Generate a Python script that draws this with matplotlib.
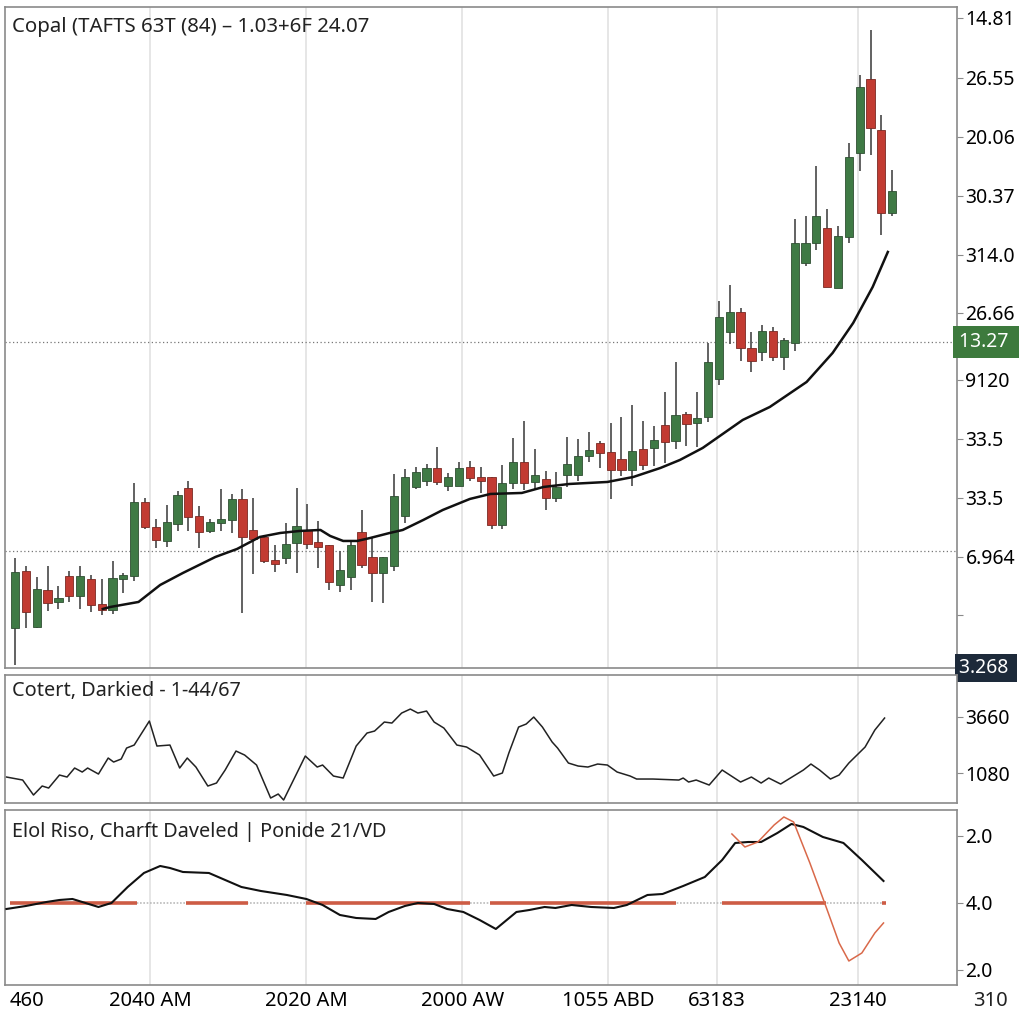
import numpy as np
import matplotlib.pyplot as plt
from matplotlib.transforms import blended_transform_factory

plt.rcParams['font.family'] = ['Noto Sans', 'DejaVu Sans']

# ---- candles (open, close, high, low) ----
opens = [7.2, 12.9, 7.3, 11.0, 9.8, 12.4, 10.4, 12.1, 9.6, 9.0, 12.1, 12.4, 19.8, 17.3, 15.9, 17.6,
         21.2, 18.4, 16.9, 17.7, 18.0, 20.1, 17.0, 16.3, 13.9, 14.2, 15.7, 17.0, 15.8, 15.5, 11.5, 12.3,
         16.8, 14.3, 12.7, 13.4, 18.4, 21.3, 21.9, 23.2, 21.4, 21.4, 23.3, 22.3, 22.3, 17.5, 21.7, 23.8,
         21.8, 22.1, 20.2, 22.5, 22.5, 24.4, 25.7, 24.8, 24.1, 23.0, 25.1, 25.2, 27.5, 25.9, 28.6, 27.7,
         28.3, 32.1, 36.8, 38.8, 35.2, 34.8, 36.9, 34.3, 35.7, 43.7, 45.7, 47.2, 41.2, 46.3, 54.7, 62.1,
         57.0, 48.7]
closes = [12.8, 8.8, 11.1, 9.7, 10.2, 10.4, 12.4, 9.5, 9.0, 12.2, 12.4, 19.8, 17.3, 16.0, 17.8, 20.5,
          18.3, 16.8, 17.8, 18.1, 20.1, 16.3, 16.1, 13.9, 13.6, 15.6, 17.4, 15.6, 15.3, 11.8, 13.0, 15.5,
          13.5, 12.7, 14.3, 20.4, 22.3, 22.8, 23.2, 21.8, 22.3, 23.2, 22.2, 21.9, 17.5, 21.7, 23.8, 21.7,
          22.5, 20.2, 21.3, 23.6, 24.4, 25.0, 24.7, 23.0, 23.0, 24.9, 23.5, 26.0, 25.8, 28.5, 27.6, 28.2,
          33.8, 38.3, 38.8, 35.2, 33.9, 36.9, 34.3, 36.0, 45.7, 45.7, 48.4, 41.3, 46.4, 54.3, 61.3, 57.2,
          48.7, 50.9]
highs = [14.2, 13.4, 12.3, 13.4, 11.4, 12.9, 13.4, 12.5, 12.1, 13.9, 12.7, 21.7, 20.2, 18.1, 19.5, 20.9,
         21.9, 19.4, 18.1, 21.1, 20.6, 21.1, 20.2, 16.5, 15.5, 17.7, 21.2, 19.6, 17.9, 15.5, 14.9, 15.8,
         19.0, 16.2, 14.3, 22.6, 23.1, 23.3, 23.6, 25.3, 22.7, 23.8, 23.9, 23.3, 22.3, 23.5, 26.2, 27.9,
         25.1, 22.9, 22.8, 26.3, 26.1, 26.8, 25.9, 27.7, 28.3, 29.5, 27.9, 27.4, 30.8, 33.8, 28.8, 30.8,
         35.7, 39.9, 41.5, 39.2, 36.8, 37.5, 37.3, 36.2, 48.1, 48.4, 53.4, 49.1, 47.4, 55.7, 62.5, 67.0,
         58.5, 53.0]
lows = [3.5, 7.2, 7.2, 8.9, 9.1, 9.8, 9.1, 8.8, 8.5, 8.6, 10.7, 11.9, 17.1, 15.2, 15.3, 16.9,
        16.9, 15.2, 16.7, 16.9, 16.7, 8.7, 12.6, 13.7, 12.8, 13.6, 12.7, 15.1, 13.2, 11.0, 10.8, 11.0,
        13.2, 9.8, 9.7, 12.9, 17.7, 21.1, 21.4, 21.5, 20.9, 21.4, 21.9, 20.7, 17.1, 17.1, 21.1, 21.0,
        21.0, 19.0, 19.8, 21.3, 21.9, 23.8, 23.2, 20.1, 22.4, 21.4, 23.0, 23.4, 23.7, 25.1, 25.4, 25.3,
        27.8, 31.5, 35.6, 33.9, 32.8, 33.9, 33.9, 33.0, 34.9, 43.4, 45.0, 41.3, 41.2, 45.7, 52.9, 54.5,
        46.5, 48.4]

# moving average (bar index, value)
ma_t = [8.1, 8.8, 11.4, 13.4, 15.5, 18.5, 20.5, 22.6, 24.5, 26.3, 28.2, 29.1, 30.3, 31.6, 32.8, 34.6,
        35.8, 37.7, 39.5, 42.0, 43.9, 46.8, 48.8, 51.2, 54.7, 57.1, 59.6, 61.4, 63.5, 67.2, 69.7, 73.1,
        75.5, 77.4, 79.2, 80.6]
ma_v = [9.1, 9.3, 9.8, 11.5, 12.7, 14.3, 15.1, 16.3, 16.7, 16.9, 17.0, 16.4, 15.9, 15.9, 16.2, 16.7,
        17.0, 18.0, 19.0, 20.1, 20.6, 20.7, 21.3, 21.6, 21.8, 22.3, 23.2, 24.0, 25.2, 28.0, 29.3, 31.8,
        34.7, 37.7, 41.3, 44.8]

# oscillator panel
osc_t = [-0.8, 0.7, 1.7, 2.5, 3.1, 4.1, 4.8, 5.5, 6.2, 6.7, 7.7, 8.6, 9.1, 9.8, 10.3, 11.0, 12.4,
         13.1, 14.3, 15.2, 15.9, 16.7, 17.8, 18.6, 19.4, 20.4, 21.2, 22.3, 23.6, 24.3, 24.8, 26.8, 27.9,
         28.4, 29.4, 30.3, 31.5, 32.5, 33.2, 34.1, 34.8, 35.7, 36.5, 37.2, 38.0, 38.7, 39.6, 40.8, 41.7,
         42.9, 44.2, 45.0, 45.6, 46.5, 47.2, 47.9, 48.7, 49.6, 50.1, 51.1, 52.0, 52.9, 53.8, 54.7, 55.6,
         56.8, 57.4, 58.9, 61.3, 61.7, 62.2, 62.9, 64.1, 65.3, 67.0, 68.0, 68.9, 69.6, 70.7, 71.9, 72.8,
         73.5, 74.3, 75.3, 76.1, 77.0, 78.5, 79.4, 80.3]
osc_v = [896, 758, 68, 482, 390, 988, 896, 1310, 1126, 1310, 1034, 1770, 1586, 1724, 2230, 2368, 3472,
         2322, 2368, 1310, 1770, 1356, 482, 620, 1218, 2092, 1908, 1448, -70, 114, -162, 1862, 1356,
         1448, 942, 850, 2322, 2920, 3012, 3426, 3380, 3840, 4024, 3840, 3932, 3426, 3150, 2368, 2276,
         1908, 942, 1080, 2000, 3196, 3334, 3656, 3196, 2506, 2230, 1540, 1402, 1356, 1494, 1448, 1126,
         942, 804, 804, 758, 850, 666, 758, 528, 1218, 666, 896, 620, 850, 574, 942, 1218,
         1494, 1218, 804, 988, 1540, 2276, 3058, 3610]

# bottom panel: black line and red line
low_t = [-0.8, 1.0, 2.9, 4.1, 5.3, 6.5, 7.7, 8.9, 10.4, 11.9, 13.4, 14.3, 15.5, 17.9, 19.4, 20.9,
         22.7, 25.1, 26.9, 28.4, 30.0, 31.5, 33.3, 34.5, 36.0, 37.2, 38.7, 39.9, 41.4, 42.9, 44.4,
         46.3, 47.5, 48.9, 49.9, 51.4, 53.2, 55.3, 56.5, 58.4, 59.8, 61.7, 63.7, 65.3, 66.5, 67.7,
         68.9, 70.4, 71.7, 72.8, 74.6, 76.5, 78.2, 80.2]
low_v = [-0.6, -0.3, 0.1, 0.3, 0.4, 0.0, -0.4, 0.0, 1.6, 3.0, 3.7, 3.5, 3.1, 3.0, 2.3, 1.6,
         1.2, 0.8, 0.4, -0.2, -1.2, -1.5, -1.6, -0.9, -0.3, 0.0, -0.1, -0.6, -0.9, -1.7, -2.6,
         -0.9, -0.7, -0.4, -0.5, -0.2, -0.4, -0.5, -0.2, 0.8, 0.9, 1.7, 2.6, 4.3, 6.0, 6.1,
         6.1, 7.0, 7.9, 7.6, 6.6, 6.0, 4.3, 2.2]
sig_t = [66.2, 67.4, 68.6, 70.1, 71.0, 71.9, 73.4, 74.9, 76.1, 77.0, 78.2, 79.4, 80.2]
sig_v = [6.9, 5.6, 6.1, 7.8, 8.6, 8.1, 4.0, -0.4, -4.0, -5.8, -5.0, -3.0, -2.0]

# red zero-line segments (start, end in bar units)
seg_start = [-0.5, 15.8, 26.9, 43.9, 65.3, 80.1]
seg_end = [11.3, 21.5, 42.0, 61.0, 74.9, 80.4]

main_ticks = [68.2, 62.2, 56.3, 50.4, 44.5, 38.7, 32.0, 26.1, 20.2, 14.3, 8.5]
main_labels = ['14.81', '26.55', '20.06', '30.37', '314.0', '26.66', '9120', '33.5', '33.5', '6.964', '']
osc_ticks = [3660, 1080]
low_ticks = [6.7, 0.0, -6.7]
low_labels = ['2.0', '4.0', '2.0']
x_ticks = [1.1, 12.5, 26.9, 41.3, 54.8, 64.8, 77.8]
x_labels = ['460', '2040 AM', '2020 AM', '2000 AW', '1055 ABD', '63183', '23140']
grid_x = x_ticks[1:]

green = '#3f7a45'
red = '#c23b32'
spine_c = '#8a8a8a'

fig = plt.figure(figsize=(10.24, 10.24), dpi=100)
ax1 = fig.add_axes([0.005, 0.3477, 0.9297, 0.6455])
ax2 = fig.add_axes([0.005, 0.2158, 0.9297, 0.125], sharex=ax1)
ax3 = fig.add_axes([0.005, 0.0381, 0.9297, 0.1709], sharex=ax1)

for ax in (ax1, ax2, ax3):
    for s in ax.spines.values():
        s.set_color(spine_c)
        s.set_linewidth(1.2)
    ax.yaxis.tick_right()
    ax.tick_params(axis='y', direction='out', length=4, color=spine_c, labelsize=14, pad=2)
    ax.tick_params(axis='x', length=0)
    for gx in grid_x:
        ax.axvline(gx, color='#e4e4e4', lw=1.3, zorder=0)

# main candles
idx = np.arange(len(opens))
for i in idx:
    o, c = opens[i], closes[i]
    col = green if c >= o else red
    ax1.vlines(i, lows[i], highs[i], color='#555555', lw=1.3, zorder=2)
    h = c - o if abs(c - o) > 0.35 else 0.35
    ax1.bar(i, h, bottom=min(o, c) if abs(c - o) <= 0.35 else o, width=0.76,
            color=col, edgecolor='#2f4f33' if col == green else '#7a2a24', lw=0.6, zorder=3)
ax1.plot(ma_t, ma_v, color='#111111', lw=1.8, zorder=4)
ax1.axhline(35.8, color='#777777', lw=0.9, ls=(0, (1, 2)), zorder=1)
ax1.axhline(14.9, color='#777777', lw=0.9, ls=(0, (1, 2)), zorder=1)
ax1.set_xlim(-0.92, 87.0)
ax1.set_ylim(3.2, 69.3)
ax1.set_yticks(main_ticks)
ax1.set_yticklabels(main_labels)
ax1.tick_params(axis='x', labelbottom=False)
ax1.text(0.007, 0.985, 'Copal (TAFTS 63T (84) – 1.03+6F 24.07', transform=ax1.transAxes,
         fontsize=14.7, va='top', ha='left', color='#222222')

tr = blended_transform_factory(ax1.transAxes, ax1.transData)
ax1.text(1.002, 35.8, '13.27 ', transform=tr, fontsize=14, color='white', va='center', ha='left',
         bbox=dict(boxstyle='square,pad=0.3', fc='#3d7a3d', ec='none'), clip_on=False)
ax1.text(1.002, 3.2, '3.268 ', transform=tr, fontsize=14, color='white', va='center', ha='left',
         bbox=dict(boxstyle='square,pad=0.2', fc='#1d2a3a', ec='none'), clip_on=False, zorder=10)

# oscillator
ax2.plot(osc_t, osc_v, color='#222222', lw=1.1)
ax2.set_ylim(-300, 5590)
ax2.set_yticks(osc_ticks)
ax2.set_yticklabels(['3660', '1080'])
ax2.tick_params(axis='x', labelbottom=False)
ax2.text(0.007, 0.95, 'Cotert, Darkied - 1-44/67', transform=ax2.transAxes,
         fontsize=14.3, va='top', ha='left', color='#222222')

# bottom panel
ax3.plot([-0.5, 80.4], [0, 0], color='#bbbbbb', lw=1.2, ls=(0, (1, 1)), zorder=1)
for a, b in zip(seg_start, seg_end):
    ax3.plot([a, b], [0, 0], color='#cd5c45', lw=2.6, solid_capstyle='butt', zorder=2)
ax3.plot(low_t, low_v, color='#111111', lw=1.5, zorder=3)
ax3.plot(sig_t, sig_v, color='#d9694a', lw=1.1, zorder=3)
ax3.set_ylim(-8.2, 9.3)
ax3.set_yticks(low_ticks)
ax3.set_yticklabels(low_labels)
ax3.set_xticks(x_ticks)
ax3.set_xticklabels(x_labels, fontsize=14.5)
ax3.tick_params(axis='x', pad=4)
ax3.text(0.007, 0.93, 'Elol Riso, Charft Daveled | Ponide 21/VD', transform=ax3.transAxes,
         fontsize=14.3, va='top', ha='left', color='#222222')
ax3.text(1.035, -0.09, '310', transform=ax3.transAxes, fontsize=14.5, va='center', ha='center',
         color='#222222', clip_on=False)

fig.savefig('out.png', dpi=100, facecolor='white')
